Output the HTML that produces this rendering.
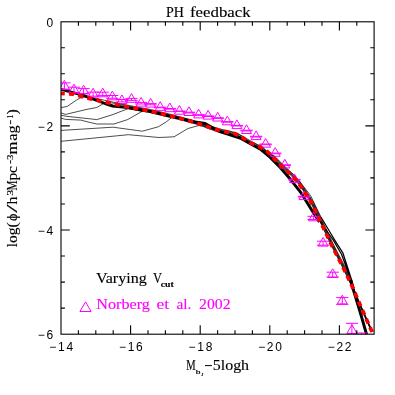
<!DOCTYPE html><html><head><meta charset="utf-8"><style>html,body{margin:0;padding:0;background:#fff}svg{display:block;will-change:transform}text{font-family:"Liberation Serif",serif}.n{font-family:"Liberation Sans",sans-serif;font-size:12px;letter-spacing:1.7px}</style></head><body>
<svg width="395" height="395" viewBox="0 0 395 395">
<rect width="395" height="395" fill="#fff"/>
<defs><clipPath id="c"><rect x="61.0" y="21.8" width="313.1" height="312.4"/></clipPath></defs>
<g clip-path="url(#c)" fill="none" stroke-linejoin="round">
<path d="M61.1 107.6 L67.1 106.5 L76.6 100.0 L80.0 98.0 L86.0 96.7 L94.0 97.8 L102.0 99.7 L110.0 101.4 L118.0 103.2 L126.0 104.9 L134.0 106.4 L142.0 107.9 L150.0 109.4 L158.0 111.3 L166.0 113.2 L174.0 115.2 L182.0 117.4 L190.0 119.5 L198.0 121.9 L206.0 124.7 L214.0 127.2 L222.0 129.5 L230.0 131.1 L238.0 133.5 L246.0 138.3 L254.0 142.8 L262.0 146.6 L271.0 156.0 L275.7 161.0 L280.8 166.0 L286.2 171.0 L291.6 176.0 L296.0 181.0 L300.0 186.0 L303.4 191.0 L306.6 196.0 L309.8 201.0 L312.4 206.0 L314.8 211.0 L317.2 216.0 L319.7 221.0 L322.0 226.0 L324.4 231.0 L326.7 236.0 L329.1 241.0 L331.5 246.0 L334.1 251.0 L336.7 256.0 L339.3 261.0 L341.8 266.0 L344.2 271.0 L346.7 276.0 L349.1 281.0 L351.5 286.0 L353.7 291.0 L355.8 296.0 L357.9 301.0 L360.0 306.0 L362.3 311.0 L364.5 316.0 L366.7 321.0 L369.0 326.0 L371.3 331.0 M61.1 112.9 L65.6 114.4 L88.0 109.1 L96.8 107.5 L105.6 102.3 L111.6 102.9 L119.6 104.2 L127.6 105.9 L135.6 107.4 L143.6 108.9 L151.6 110.5 L159.6 112.4 L167.6 114.3 L175.6 116.3 L183.6 118.5 L191.6 120.7 L199.6 123.2 L207.6 125.9 L215.6 128.3 L223.6 130.5 L231.6 132.1 L239.6 134.9 L247.6 140.0 L255.6 144.1 L263.6 148.2 L271.8 156.0 L276.4 161.0 L281.5 166.0 L286.9 171.0 L292.3 176.0 L296.7 181.0 L300.6 186.0 L303.9 191.0 L307.2 196.0 L310.3 201.0 L312.9 206.0 L315.4 211.0 L317.8 216.0 L320.2 221.0 L322.6 226.0 L324.9 231.0 L327.3 236.0 L329.6 241.0 L332.0 246.0 L334.6 251.0 L337.2 256.0 L339.8 261.0 L342.4 266.0 L344.8 271.0 L347.2 276.0 L349.7 281.0 L351.7 286.0 L353.9 291.0 L356.0 296.0 L358.1 301.0 L360.2 306.0 L362.5 311.0 L364.7 316.0 L366.9 321.0 L369.2 326.0 L371.5 331.0 M61.1 115.2 L66.4 116.3 L88.0 118.6 L96.8 119.6 L113.0 114.5 L128.4 108.5 L141.8 111.2 L147.8 110.5 L155.8 112.2 L163.8 114.1 L171.8 116.0 L179.8 118.2 L187.8 120.3 L195.8 122.6 L203.8 125.3 L211.8 127.9 L219.8 130.3 L227.8 132.0 L235.8 134.0 L243.8 138.3 L251.8 143.2 L259.8 146.8 L267.8 151.9 L272.5 156.0 L277.1 161.0 L282.2 166.0 L287.7 171.0 L293.0 176.0 L297.4 181.0 L301.1 186.0 L304.5 191.0 L307.7 196.0 L310.9 201.0 L313.5 206.0 L315.9 211.0 L318.3 216.0 L320.8 221.0 L323.1 226.0 L325.5 231.0 L327.8 236.0 L330.2 241.0 L332.6 246.0 L335.2 251.0 L337.8 256.0 L340.4 261.0 L342.9 266.0 L345.4 271.0 L347.8 276.0 L350.2 281.0 L351.9 286.0 L354.1 291.0 L356.2 296.0 L358.3 301.0 L360.4 306.0 L362.7 311.0 L364.9 316.0 L367.1 321.0 L369.4 326.0 L371.7 331.0 M61.1 118.2 L65.6 119.4 L80.8 120.1 L88.0 122.0 L96.8 124.0 L114.0 124.0 L127.8 119.5 L141.8 111.5 L147.8 110.9 L155.8 113.0 L163.8 114.9 L171.8 116.8 L179.8 119.0 L187.8 121.1 L195.8 123.4 L203.8 126.1 L211.8 128.7 L219.8 131.1 L227.8 132.8 L235.8 134.8 L243.8 139.1 L251.8 144.0 L259.8 147.6 L267.8 152.7 L273.2 156.0 L277.8 161.0 L283.0 166.0 L288.4 171.0 L293.7 176.0 L298.2 181.0 L301.7 186.0 L305.0 191.0 L308.3 196.0 L311.4 201.0 L314.0 206.0 L316.5 211.0 L318.9 216.0 L321.3 221.0 L323.7 226.0 L326.0 231.0 L328.4 236.0 L330.7 241.0 L333.2 246.0 L335.7 251.0 L338.3 256.0 L340.9 261.0 L343.5 266.0 L345.9 271.0 L348.3 276.0 L350.8 281.0 L352.1 286.0 L354.3 291.0 L356.4 296.0 L358.5 301.0 L360.6 306.0 L362.9 311.0 L365.1 316.0 L367.3 321.0 L369.6 326.0 L371.9 331.0 M61.1 130.4 L113.0 127.2 L142.3 131.2 L158.3 126.8 L166.6 121.6 L172.0 117.3 L178.0 118.5 L186.0 121.3 L194.0 123.5 L202.0 126.2 L210.0 128.9 L218.0 131.2 L226.0 133.2 L234.0 134.7 L242.0 138.6 L250.0 143.8 L258.0 147.3 L266.0 151.7 L273.9 156.0 L278.6 161.0 L283.7 166.0 L289.1 171.0 L294.5 176.0 L298.9 181.0 L302.2 186.0 L305.6 191.0 L308.8 196.0 L312.0 201.0 L314.6 206.0 L317.0 211.0 L319.4 216.0 L321.9 221.0 L324.3 226.0 L326.6 231.0 L328.9 236.0 L331.3 241.0 L333.7 246.0 L336.3 251.0 L338.9 256.0 L341.5 261.0 L344.0 266.0 L346.5 271.0 L348.9 276.0 L351.3 281.0 L352.3 286.0 L354.5 291.0 L356.6 296.0 L358.7 301.0 L360.8 306.0 L363.1 311.0 L365.3 316.0 L367.5 321.0 L369.8 326.0 L372.1 331.0 M61.1 141.3 L128.4 134.7 L159.0 137.5 L174.0 136.8 L188.0 128.5 L201.4 124.8 L207.4 127.8 L215.4 131.2 L223.4 133.4 L231.4 134.9 L239.4 137.7 L247.4 142.8 L255.4 147.0 L263.4 151.0 L274.6 156.0 L279.3 161.0 L284.4 166.0 L289.8 171.0 L295.2 176.0 L299.6 181.0 L302.8 186.0 L306.1 191.0 L309.4 196.0 L312.5 201.0 L315.1 206.0 L317.6 211.0 L320.0 216.0 L322.4 221.0 L324.8 226.0 L327.2 231.0 L329.5 236.0 L331.8 241.0 L334.3 246.0 L336.8 251.0 L339.4 256.0 L342.0 261.0 L344.6 266.0 L347.0 271.0 L349.4 276.0 L351.9 281.0 L352.5 286.0 L354.7 291.0 L356.8 296.0 L358.9 301.0 L361.0 306.0 L363.3 311.0 L365.5 316.0 L367.7 321.0 L370.0 326.0 L372.3 331.0  M296.0 178.0 L302.0 184.5 L310.6 195.6 L320.9 217.0" stroke="#000" stroke-width="0.7"/>
<path d="M315.0 214.0 L320.5 222.0 L333.2 240.0 L341.5 254.2 L351.0 280.0 L353.5 288.0 M320.9 217.0 L334.7 240.0 L343.0 253.2 L351.6 280.0 L354.0 288.0" stroke="#000" stroke-width="1.25"/>
<path d="M61.1 89.3 L83.3 95.3 L105.0 103.5 L112.7 106.0 L125.3 107.3 L150.0 111.5 L173.0 117.0 L195.0 122.0 L205.0 123.5 L220.0 131.7 L240.0 138.0 L250.0 143.5 L260.0 149.0 L270.0 157.2 L280.0 167.3 L290.0 178.8 L301.3 193.2 L312.0 210.5 L319.4 222.0 M350.6 279.5 L353.5 290.4 L361.0 315.0 L366.6 334.5" stroke="#000" stroke-width="2.9"/>
<g stroke="#f0f" stroke-width="1">
<path d="M64.4 80.4 L59.4 89.1 L69.4 89.1 Z"/>
<path d="M64.4 82.9 V89.5 M58.3 82.9 H70.5 M58.3 89.5 H70.5"/>
<path d="M74.0 84.2 L69.0 92.9 L79.0 92.9 Z"/>
<path d="M74.0 87.2 V92.8 M67.9 87.2 H80.1 M67.9 92.8 H80.1"/>
<path d="M83.6 85.2 L78.6 93.9 L88.6 93.9 Z"/>
<path d="M83.6 88.6 V93.4 M77.5 88.6 H89.7 M77.5 93.4 H89.7"/>
<path d="M93.1 88.3 L88.1 97.0 L98.1 97.0 Z"/>
<path d="M93.1 92.1 V96.1 M87.0 92.1 H99.2 M87.0 96.1 H99.2"/>
<path d="M102.7 88.1 L97.7 96.8 L107.7 96.8 Z"/>
<path d="M102.7 92.2 V95.6 M96.6 92.2 H108.8 M96.6 95.6 H108.8"/>
<path d="M112.3 91.1 L107.3 99.8 L117.3 99.8 Z"/>
<path d="M112.3 95.5 V98.3 M106.2 95.5 H118.4 M106.2 98.3 H118.4"/>
<path d="M121.9 94.9 L116.9 103.6 L126.9 103.6 Z"/>
<path d="M121.9 99.5 V101.9 M115.8 99.5 H128.0 M115.8 101.9 H128.0"/>
<path d="M131.5 93.6 L126.5 102.3 L136.5 102.3 Z"/>
<path d="M131.5 98.4 V100.4 M125.4 98.4 H137.6 M125.4 100.4 H137.6"/>
<path d="M141.1 97.4 L136.1 106.1 L146.1 106.1 Z"/>
<path d="M141.1 102.4 V104.0 M135.0 102.4 H147.2 M135.0 104.0 H147.2"/>
<path d="M150.6 98.4 L145.6 107.1 L155.6 107.1 Z"/>
<path d="M150.6 103.6 V104.8 M144.5 103.6 H156.7 M144.5 104.8 H156.7"/>
<path d="M160.2 101.7 L155.2 110.4 L165.2 110.4 Z"/>
<path d="M160.2 107.2 V107.8 M154.1 107.2 H166.3 M154.1 107.8 H166.3"/>
<path d="M169.8 103.0 L164.8 111.7 L174.8 111.7 Z"/>
<path d="M169.8 108.5 V109.1 M163.7 108.5 H175.9 M163.7 109.1 H175.9"/>
<path d="M179.4 105.5 L174.4 114.2 L184.4 114.2 Z"/>
<path d="M179.4 111.0 V111.6 M173.3 111.0 H185.5 M173.3 111.6 H185.5"/>
<path d="M189.0 106.8 L184.0 115.5 L194.0 115.5 Z"/>
<path d="M189.0 112.2 V112.9 M182.9 112.2 H195.1 M182.9 112.9 H195.1"/>
<path d="M198.6 109.2 L193.6 117.9 L203.6 117.9 Z"/>
<path d="M198.6 114.7 V115.3 M192.5 114.7 H204.7 M192.5 115.3 H204.7"/>
<path d="M208.1 110.4 L203.1 119.1 L213.1 119.1 Z"/>
<path d="M208.1 115.9 V116.5 M202.0 115.9 H214.2 M202.0 116.5 H214.2"/>
<path d="M217.7 112.3 L212.7 121.0 L222.7 121.0 Z"/>
<path d="M217.7 117.8 V118.4 M211.6 117.8 H223.8 M211.6 118.4 H223.8"/>
<path d="M227.3 116.1 L222.3 124.8 L232.3 124.8 Z"/>
<path d="M227.3 121.6 V122.2 M221.2 121.6 H233.4 M221.2 122.2 H233.4"/>
<path d="M236.9 119.9 L231.9 128.6 L241.9 128.6 Z"/>
<path d="M236.9 125.4 V126.0 M230.8 125.4 H243.0 M230.8 126.0 H243.0"/>
<path d="M246.5 124.8 L241.5 133.5 L251.5 133.5 Z"/>
<path d="M246.5 130.2 V130.9 M240.4 130.2 H252.6 M240.4 130.9 H252.6"/>
<path d="M256.1 130.9 L251.1 139.6 L261.1 139.6 Z"/>
<path d="M256.1 136.3 V137.0 M250.0 136.3 H262.2 M250.0 137.0 H262.2"/>
<path d="M265.6 138.5 L260.6 147.2 L270.6 147.2 Z"/>
<path d="M265.6 144.0 V144.7 M259.5 144.0 H271.7 M259.5 144.7 H271.7"/>
<path d="M275.2 147.6 L270.2 156.3 L280.2 156.3 Z"/>
<path d="M275.2 153.1 V153.8 M269.1 153.1 H281.3 M269.1 153.8 H281.3"/>
<path d="M284.8 159.3 L279.8 168.0 L289.8 168.0 Z"/>
<path d="M284.8 164.8 V165.4 M278.7 164.8 H290.9 M278.7 165.4 H290.9"/>
<path d="M294.4 173.9 L289.4 182.6 L299.4 182.6 Z"/>
<path d="M294.4 179.3 V180.0 M288.3 179.3 H300.5 M288.3 180.0 H300.5"/>
<path d="M304.0 190.9 L299.0 199.6 L309.0 199.6 Z"/>
<path d="M304.0 196.3 V197.0 M297.9 196.3 H310.1 M297.9 197.0 H310.1"/>
<path d="M313.6 212.1 L308.6 220.8 L318.6 220.8 Z"/>
<path d="M313.6 216.3 V219.5 M307.5 216.3 H319.7 M307.5 219.5 H319.7"/>
<path d="M323.1 237.4 L318.1 246.1 L328.1 246.1 Z"/>
<path d="M323.1 241.2 V245.2 M317.0 241.2 H329.2 M317.0 245.2 H329.2"/>
<path d="M332.7 268.8 L327.7 277.5 L337.7 277.5 Z"/>
<path d="M332.7 272.2 V277.0 M326.6 272.2 H338.8 M326.6 277.0 H338.8"/>
<path d="M342.3 295.2 L337.3 303.9 L347.3 303.9 Z"/>
<path d="M342.3 297.6 V304.4 M336.2 297.6 H348.4 M336.2 304.4 H348.4"/>
<path d="M351.9 324.7 L346.9 333.4 L356.9 333.4 Z"/>
<path d="M351.9 323.3 V337.7 M345.8 323.3 H358.0 M345.8 337.7 H358.0"/>
<path d="M361.5 335.2 L356.5 343.9 L366.5 343.9 Z"/>
<path d="M361.5 333.0 V349.0 M355.4 333.0 H367.6 M355.4 349.0 H367.6"/>
</g>
<path d="M61.1 93.4 L73.8 94.2 L83.3 96.9 L99.8 100.8 L125.0 106.3 L150.0 111.0 L173.0 116.5 L195.0 122.5 L209.0 127.3 L221.6 131.0 L234.3 133.5 L240.0 136.0 L251.0 143.1 L258.6 146.3 L266.2 150.5 L272.8 157.0 L277.8 162.5 L282.4 166.8 L286.1 170.2 L293.2 176.8 L299.2 183.9 L303.8 190.8 L309.4 199.4 L311.5 203.0 L321.4 223.4 L331.4 244.7 L341.9 265.0 L351.3 284.3 L360.8 306.6 L370.7 328.8 L373.5 334.5" stroke="#f00" stroke-width="3.8" stroke-dasharray="5.2 4.2" stroke-dashoffset="1.5"/>
</g>
<g stroke="#000" stroke-width="1.1" fill="none">
<rect x="61.0" y="21.8" width="313.1" height="312.4"/>
<path d="M78.4 21.8 v3.9 M78.4 334.1 v-3.9 M95.8 21.8 v3.9 M95.8 334.1 v-3.9 M113.2 21.8 v3.9 M113.2 334.1 v-3.9 M130.6 21.8 v8.8 M130.6 334.1 v-8.8 M148.0 21.8 v3.9 M148.0 334.1 v-3.9 M165.4 21.8 v3.9 M165.4 334.1 v-3.9 M182.8 21.8 v3.9 M182.8 334.1 v-3.9 M200.2 21.8 v8.8 M200.2 334.1 v-8.8 M217.6 21.8 v3.9 M217.6 334.1 v-3.9 M235.0 21.8 v3.9 M235.0 334.1 v-3.9 M252.4 21.8 v3.9 M252.4 334.1 v-3.9 M269.8 21.8 v8.8 M269.8 334.1 v-8.8 M287.2 21.8 v3.9 M287.2 334.1 v-3.9 M304.6 21.8 v3.9 M304.6 334.1 v-3.9 M322.0 21.8 v3.9 M322.0 334.1 v-3.9 M339.4 21.8 v8.8 M339.4 334.1 v-8.8 M356.8 21.8 v3.9 M356.8 334.1 v-3.9 M61.0 47.8 h3.9 M374.2 47.8 h-3.9 M61.0 73.8 h3.9 M374.2 73.8 h-3.9 M61.0 99.8 h3.9 M374.2 99.8 h-3.9 M61.0 125.9 h8.8 M374.2 125.9 h-8.8 M61.0 151.9 h3.9 M374.2 151.9 h-3.9 M61.0 177.9 h3.9 M374.2 177.9 h-3.9 M61.0 204.0 h3.9 M374.2 204.0 h-3.9 M61.0 230.0 h8.8 M374.2 230.0 h-8.8 M61.0 256.0 h3.9 M374.2 256.0 h-3.9 M61.0 282.1 h3.9 M374.2 282.1 h-3.9 M61.0 308.1 h3.9 M374.2 308.1 h-3.9 "/>
</g>
<text class="n" x="62.1" y="350.5" text-anchor="middle">−14</text>
<text class="n" x="131.7" y="350.5" text-anchor="middle">−16</text>
<text class="n" x="201.3" y="350.5" text-anchor="middle">−18</text>
<text class="n" x="270.9" y="350.5" text-anchor="middle">−20</text>
<text class="n" x="340.5" y="350.5" text-anchor="middle">−22</text>
<text class="n" x="54.8" y="26.8" text-anchor="end">0</text>
<text class="n" x="54.8" y="130.9" text-anchor="end">−2</text>
<text class="n" x="54.8" y="235.0" text-anchor="end">−4</text>
<text class="n" x="54.8" y="339.1" text-anchor="end">−6</text>
<text x="165.9" y="16.7" font-size="13.8" textLength="17.9" lengthAdjust="spacingAndGlyphs" fill="#000" stroke="#000" stroke-width="0.12" >PH</text>
<text x="190.0" y="16.7" font-size="13.8" textLength="60.7" lengthAdjust="spacingAndGlyphs" fill="#000" stroke="#000" stroke-width="0.12" >feedback</text>
<text x="95.9" y="282.5" font-size="13.8" textLength="50.9" lengthAdjust="spacingAndGlyphs" fill="#000" stroke="#000" stroke-width="0.12" >Varying</text>
<text x="153.0" y="282.5" font-size="13.8" textLength="9.0" lengthAdjust="spacingAndGlyphs" fill="#000" stroke="#000" stroke-width="0.12" >V</text>
<text x="160.8" y="286.5" font-size="7.4" textLength="13.0" lengthAdjust="spacingAndGlyphs" fill="#000" stroke="#000" stroke-width="0.1" font-family="Liberation Sans" font-weight="bold">cut</text>
<g style="fill:#f0f">
<text x="96.3" y="308.8" font-size="13.8" textLength="53.6" lengthAdjust="spacingAndGlyphs" fill="#f0f" stroke="#f0f" stroke-width="0.12" >Norberg</text>
<text x="156.6" y="308.8" font-size="13.8" textLength="12.6" lengthAdjust="spacingAndGlyphs" fill="#f0f" stroke="#f0f" stroke-width="0.12" >et</text>
<text x="176.4" y="308.8" font-size="13.8" textLength="15.0" lengthAdjust="spacingAndGlyphs" fill="#f0f" stroke="#f0f" stroke-width="0.12" >al.</text>
<text x="199.0" y="308.8" font-size="13.8" textLength="31.5" lengthAdjust="spacingAndGlyphs" fill="#f0f" stroke="#f0f" stroke-width="0.12" >2002</text>
</g>
<path d="M85.6 301.9 L79.9 311.5 L91.1 311.5 Z" fill="none" stroke="#f0f" stroke-width="1"/>
<text x="186.2" y="369.8" font-size="13.8" textLength="9.4" lengthAdjust="spacingAndGlyphs" fill="#000" stroke="#000" stroke-width="0.12" >M</text>
<text x="195.7" y="373.8" font-size="6.8" textLength="4.7" lengthAdjust="spacingAndGlyphs" fill="#000" stroke="#000" stroke-width="0.2" >b</text>
<text x="200.9" y="375.6" font-size="4.5" textLength="2.6" lengthAdjust="spacingAndGlyphs" fill="#000" stroke="#000" stroke-width="0.1" >J</text>
<path d="M205 365.6 H211.9" stroke="#000" stroke-width="1"/>
<text x="212.8" y="369.8" font-size="13.8" textLength="36.3" lengthAdjust="spacingAndGlyphs" fill="#000" stroke="#000" stroke-width="0.12" >5logh</text>
<g transform="translate(16.7,0) rotate(-90)">
<text x="-247.3" y="0.0" font-size="13.8" textLength="25.1" lengthAdjust="spacingAndGlyphs" fill="#000" stroke="#000" stroke-width="0.12" >log(</text>
<text x="-221.0" y="0.0" font-size="13.8" textLength="7.5" lengthAdjust="spacingAndGlyphs" fill="#000" stroke="#000" stroke-width="0.12" >ϕ</text>
<text x="-212.8" y="0.0" font-size="13.8" textLength="8.4" lengthAdjust="spacingAndGlyphs" fill="#000" stroke="#000" stroke-width="0.12" >/</text>
<text x="-204.4" y="0.0" font-size="13.8" textLength="7.9" lengthAdjust="spacingAndGlyphs" fill="#000" stroke="#000" stroke-width="0.12" >h</text>
<text x="-195.8" y="-3.4" font-size="8.8" textLength="5.9" lengthAdjust="spacingAndGlyphs" fill="#000" stroke="#000" stroke-width="0.15" >3</text>
<text x="-190.4" y="0.0" font-size="13.8" textLength="10.0" lengthAdjust="spacingAndGlyphs" fill="#000" stroke="#000" stroke-width="0.12" >M</text>
<text x="-180.6" y="0.0" font-size="13.8" textLength="14.5" lengthAdjust="spacingAndGlyphs" fill="#000" stroke="#000" stroke-width="0.12" >pc</text>
<path d="M-163.7 -6.1 H-160.2" stroke="#000" stroke-width="0.9"/>
<text x="-160.1" y="-3.4" font-size="8.8" textLength="5.4" lengthAdjust="spacingAndGlyphs" fill="#000" stroke="#000" stroke-width="0.15" >3</text>
<text x="-154.5" y="0.0" font-size="13.8" textLength="12.9" lengthAdjust="spacingAndGlyphs" fill="#000" stroke="#000" stroke-width="0.12" >m</text>
<text x="-140.8" y="0.0" font-size="13.8" textLength="15.4" lengthAdjust="spacingAndGlyphs" fill="#000" stroke="#000" stroke-width="0.12" >ag</text>
<path d="M-124.2 -6.1 H-120.2" stroke="#000" stroke-width="0.9"/>
<text x="-118.6" y="-3.4" font-size="8.8" textLength="3.9" lengthAdjust="spacingAndGlyphs" fill="#000" stroke="#000" stroke-width="0.15" >1</text>
<text x="-114.5" y="0.0" font-size="13.8" textLength="5.3" lengthAdjust="spacingAndGlyphs" fill="#000" stroke="#000" stroke-width="0.12" >)</text>
</g>
</svg></body></html>
